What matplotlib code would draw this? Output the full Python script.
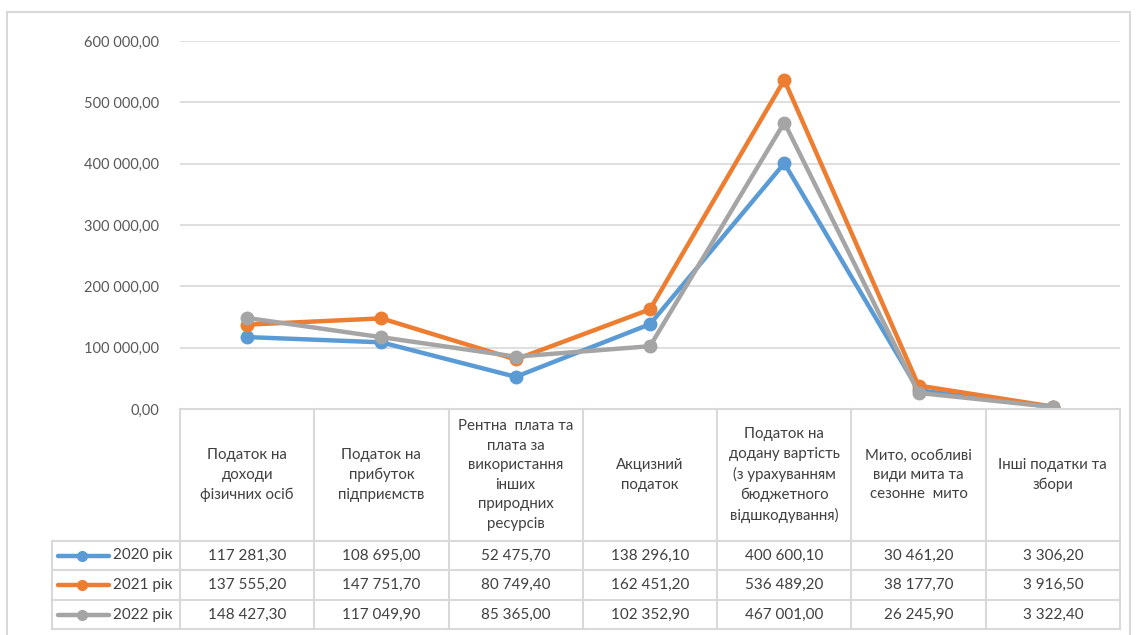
import matplotlib
matplotlib.use("Agg")
import matplotlib.pyplot as plt
from matplotlib.lines import Line2D
from matplotlib.patches import Rectangle

plt.rcParams['font.family'] = ['Lato', 'DejaVu Sans']

categories = [
    "Податок на\nдоходи\nфізичних осіб",
    "Податок на\nприбуток\nпідприємств",
    "Рентна  плата та\nплата за\nвикористання\nінших\nприродних\nресурсів",
    "Акцизний\nподаток",
    "Податок на\nдодану вартість\n(з урахуванням\nбюджетного\nвідшкодування)",
    "Мито, особливі\nвиди мита та\nсезонне  мито",
    "Інші податки та\nзбори",
]
series_names = ["2020 рік", "2021 рік", "2022 рік"]
v2020 = [117281.30, 108695.00, 52475.70, 138296.10, 400600.10, 30461.20, 3306.20]
v2021 = [137555.20, 147751.70, 80749.40, 162451.20, 536489.20, 38177.70, 3916.50]
v2022 = [148427.30, 117049.90, 85365.00, 102352.90, 467001.00, 26245.90, 3322.40]
series_values = [v2020, v2021, v2022]
colors = ["#5B9BD5", "#ED7D31", "#A5A5A5"]
yticks = [0, 100000, 200000, 300000, 400000, 500000, 600000]

W, H = 1137, 635
fig = plt.figure(figsize=(W / 100, H / 100), dpi=100)

def fx(px):
    return px / W

def fy(py):
    return 1 - py / H

# outer frame
fig.patches.append(Rectangle((fx(7), fy(640)), fx(1130) - fx(7), fy(12) - fy(640),
                             transform=fig.transFigure, fill=False,
                             edgecolor="#D9D9D9", linewidth=1.5))

left, right, top, bottom = 180, 1120, 41, 409
ax = fig.add_axes([fx(left), fy(bottom), fx(right) - fx(left), fy(top) - fy(bottom)])
n = len(categories)
ax.set_xlim(-0.5, n - 0.5)
ax.set_ylim(0, 600000)
for s in ax.spines.values():
    s.set_visible(False)
ax.set_xticks([])
ax.set_yticks(yticks)
ax.set_yticklabels([f"{t:,.2f}".replace(",", " ").replace(".", ",") for t in yticks],
                   color="#595959", fontsize=10.5)
ax.tick_params(axis='y', length=0, pad=15)
for t in yticks[1:]:
    ax.axhline(t, color="#D9D9D9", linewidth=1.2, zorder=0)

x = list(range(n))
for vals, c in zip(series_values, colors):
    ax.plot(x, vals, color=c, linewidth=3.2, marker='o', markersize=9, zorder=3,
            solid_capstyle='round', solid_joinstyle='round')

# table
grid_c = "#D9D9D9"
lw = 1.5
col_w = (right - left) / n

def hline(y, x0, x1):
    fig.add_artist(Line2D([fx(x0), fx(x1)], [fy(y), fy(y)], color=grid_c, linewidth=lw,
                          transform=fig.transFigure))

def vline(xp, y0, y1):
    fig.add_artist(Line2D([fx(xp), fx(xp)], [fy(y0), fy(y1)], color=grid_c, linewidth=lw,
                          transform=fig.transFigure))

hline(bottom, left, right)
row_lines = [541, 570, 600, 629]
for y in row_lines:
    hline(y, 52, right)
for i in range(n + 1):
    vline(left + i * col_w, bottom, 629)
vline(52, 541, 629)

tc = "#404040"
for i, cat in enumerate(categories):
    cx = left + (i + 0.5) * col_w
    fig.text(fx(cx), fy(475), cat, ha='center', va='center', fontsize=10.8, color=tc,
             linespacing=1.5)

for r, (name, vals, c) in enumerate(zip(series_names, series_values, colors)):
    cy = (row_lines[r] + row_lines[r + 1]) / 2
    fig.add_artist(Line2D([fx(58), fx(109)], [fy(cy), fy(cy)], color=c, linewidth=3.2,
                          transform=fig.transFigure, solid_capstyle='round'))
    fig.add_artist(Line2D([fx(82)], [fy(cy)], color=c, marker='o', markersize=7,
                          transform=fig.transFigure))
    fig.text(fx(113), fy(cy), name, ha='left', va='center', fontsize=11, color=tc)
    for i, v in enumerate(vals):
        cx = left + (i + 0.5) * col_w
        s = f"{v:,.2f}".replace(",", " ").replace(".", ",")
        fig.text(fx(cx), fy(cy), s, ha='center', va='center', fontsize=11, color=tc)

fig.savefig("out.png", dpi=100)
